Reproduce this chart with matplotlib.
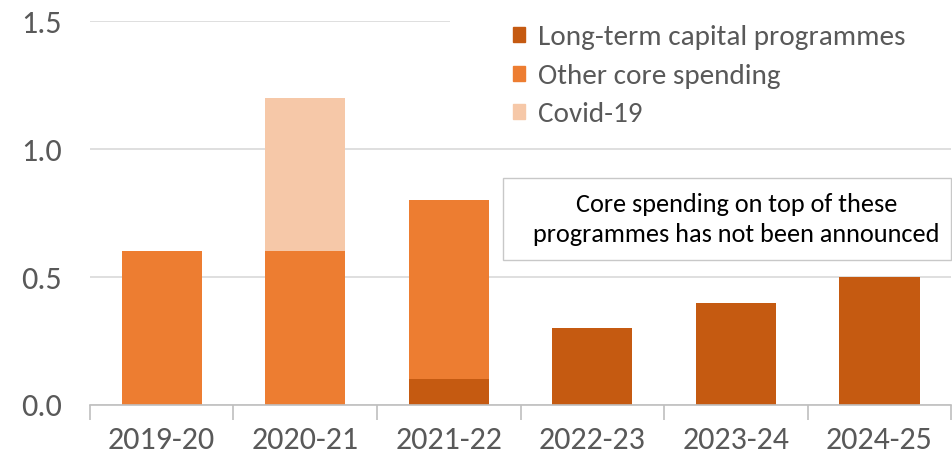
import numpy as np
import matplotlib
matplotlib.use("Agg")
import matplotlib.pyplot as plt
from matplotlib.patches import Patch, Rectangle

plt.rcParams["font.family"] = ["Carlito", "DejaVu Sans"]

# Spending by year (£ billion)
years = ["2019-20", "2020-21", "2021-22", "2022-23", "2023-24", "2024-25"]
long_term = [0.0, 0.0, 0.1, 0.3, 0.4, 0.5]
other_core = [0.6, 0.6, 0.7, 0.0, 0.0, 0.0]
covid = [0.0, 0.6, 0.0, 0.0, 0.0, 0.0]
series_names = ["Long-term capital programmes", "Other core spending", "Covid-19"]

c_long = "#C55A11"
c_core = "#ED7D31"
c_covid = "#F6C8A8"
grey_txt = "#595959"

fig = plt.figure(figsize=(9.53, 4.57), dpi=100)
ax = fig.add_axes([0.0944, 0.1138, 0.9036, 0.8402])

x = np.arange(len(years))
w = 0.56
long_arr = np.array(long_term)
core_arr = np.array(other_core)
covid_arr = np.array(covid)
ax.bar(x, long_arr, w, color=c_long, zorder=2)
ax.bar(x, core_arr, w, bottom=long_arr, color=c_core, zorder=2)
ax.bar(x, covid_arr, w, bottom=long_arr + core_arr, color=c_covid, zorder=2)

ax.set_xlim(-0.5, len(years) - 0.5)
ax.set_ylim(0, 1.5)
ax.set_yticks([0.0, 0.5, 1.0, 1.5])
ax.set_yticklabels(["0.0", "0.5", "1.0", "1.5"])
ax.yaxis.grid(True, color="#D9D9D9", linewidth=1.2, zorder=0)
ax.set_axisbelow(True)

ax.set_xticks(x)
ax.set_xticklabels(years)
ax.set_xticks(np.arange(-0.5, len(years)), minor=True)
ax.tick_params(axis="x", which="major", length=0, pad=15)
ax.tick_params(axis="x", which="minor", length=11, color="#BFBFBF", width=1.2)
ax.tick_params(axis="y", length=0, pad=20)
for lab in ax.get_xticklabels():
    lab.set_fontsize(23)
    lab.set_color(grey_txt)
for lab in ax.get_yticklabels():
    lab.set_fontsize(23)
    lab.set_color(grey_txt)

for s in ["top", "right", "left"]:
    ax.spines[s].set_visible(False)
ax.spines["bottom"].set_color("#BFBFBF")
ax.spines["bottom"].set_linewidth(1.2)

# white panel behind the legend hides the top gridline
ax.add_patch(Rectangle((0.418, 0.69), 0.6, 0.36, transform=ax.transAxes,
                       facecolor="white", edgecolor="none", zorder=1,
                       clip_on=False))

handles = [Patch(color=c) for c in (c_long, c_core, c_covid)]
leg = ax.legend(handles, series_names, loc="upper left",
                bbox_to_anchor=(0.491, 0.99), frameon=False,
                handlelength=0.42, handleheight=0.42, handletextpad=0.45,
                labelspacing=0.47, borderpad=0, borderaxespad=0,
                prop={"size": 21})
for t in leg.get_texts():
    t.set_color(grey_txt)

# note box over the later years
ax.add_patch(Rectangle((0.48, 0.378), 0.52, 0.213, transform=ax.transAxes,
                       facecolor="white", edgecolor="#C8C8C8", linewidth=1,
                       zorder=4, clip_on=False))
ax.text(0.751, 0.484, "Core spending on top of these\nprogrammes has not been announced",
        transform=ax.transAxes, ha="center", va="center", fontsize=18.9,
        color="black", linespacing=1.38, zorder=5)

fig.savefig("out.png", dpi=100)
